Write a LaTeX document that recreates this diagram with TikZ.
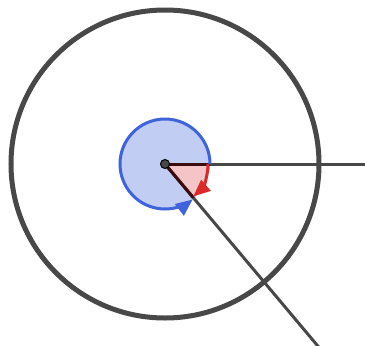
\documentclass[tikz,border=0pt]{standalone}
\usetikzlibrary{arrows.meta}
\definecolor{dgray}{HTML}{484848}
\definecolor{rblue}{HTML}{3F63DC}
\definecolor{lblue}{HTML}{C2CDF3}
\definecolor{rred}{HTML}{DA2A2A}
\definecolor{lred}{HTML}{F4C4C6}
\definecolor{dline}{HTML}{3A0C10}
\tikzset{
  bigring/.style={draw=dgray, line width=5pt},
  ray/.style={draw=dgray, line width=3pt},
  innerray/.style={draw=dline, line width=3pt},
  bluearc/.style={draw=rblue, line width=3pt, -{Triangle[length=17pt,width=14pt]}},
  redarc/.style={draw=rred, line width=3pt, -{Triangle[length=17pt,width=14pt]}},
}
\begin{document}
\begin{tikzpicture}[x=1pt,y=-1pt]
\useasboundingbox (0,0) rectangle (365,346);
\clip (0,0) rectangle (365,346);
\coordinate (O) at (165,164);
\coordinate (E) at (370,164);
\coordinate (F) at (319.5,348);
\draw[bigring] (O) circle[radius=154];
\fill[lblue] (O) circle[radius=45];
\fill[lred] (O) -- ++(0:43) arc[start angle=0, end angle=50, radius=43] -- cycle;
\draw[ray] (O) -- (E);
\draw[ray] (O) -- (F);
\draw[innerray] (O) -- ++(45,0);
\draw[innerray] (O) -- ++(50:44);
\draw[rblue, line width=3pt] ([shift={(0:45)}]O) arc[start angle=0, end angle=-280, radius=45];
\draw[bluearc] ([shift={(80:45)}]O) arc[start angle=80, end angle=52, radius=45];
\draw[redarc] ([shift={(0:43)}]O) arc[start angle=0, end angle=49, radius=43];
\node[circle, fill=dgray, draw=black, line width=1pt, inner sep=0pt, minimum size=9pt] (c) at (O) {};
\end{tikzpicture}
\end{document}
